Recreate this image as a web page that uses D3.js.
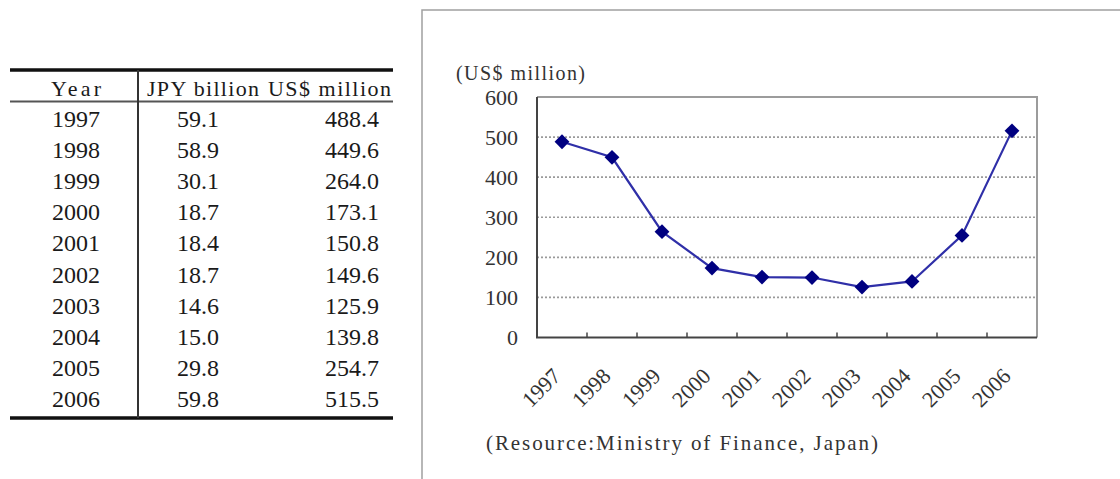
<!DOCTYPE html>
<html>
<head>
<meta charset="utf-8">
<script src="https://cdn.jsdelivr.net/npm/d3@7/dist/d3.min.js"></script>
<style>
  html, body { margin: 0; padding: 0; background: #fff; }
  svg { display: block; }
  text { font-family: "Liberation Serif", "DejaVu Serif", serif; }
</style>
</head>
<body>
<svg id="chart" width="1120" height="479"></svg>
<script>
// Japanese exports, 1997-2006
const years = ["1997", "1998", "1999", "2000", "2001", "2002", "2003", "2004", "2005", "2006"];
const jpyBillion = [59.1, 58.9, 30.1, 18.7, 18.4, 18.7, 14.6, 15.0, 29.8, 59.8];
const usdMillion = [488.4, 449.6, 264.0, 173.1, 150.8, 149.6, 125.9, 139.8, 254.7, 515.5];
const yTicks = [0, 100, 200, 300, 400, 500, 600];
const gridValues = [100, 200, 300, 400, 500];
const tableHeaders = ["Year", "JPY billion", "US$ million"];
const yTitle = "(US$ million)";
const sourceNote = "(Resource:Ministry of Finance, Japan)";

const svg = d3.select("#chart");
const fmt = d3.format(".1f");

// ---------- Table ----------
const table = svg.append("g").attr("fill", "#1a1a1a");
const tLeft = 10, tRight = 393, tTop = 70, tBottom = 418, tDivider = 138;
const rowY = d3.scalePoint().domain(years).range([127, 407]);

table.append("line").attr("x1", tLeft).attr("x2", tRight).attr("y1", tTop).attr("y2", tTop)
  .attr("stroke", "#111").attr("stroke-width", 3.5);
table.append("line").attr("x1", tLeft).attr("x2", tRight).attr("y1", 101.5).attr("y2", 101.5)
  .attr("stroke", "#555").attr("stroke-width", 2);
table.append("line").attr("x1", tLeft).attr("x2", tRight).attr("y1", tBottom).attr("y2", tBottom)
  .attr("stroke", "#111").attr("stroke-width", 3.5);
table.append("line").attr("x1", tDivider).attr("x2", tDivider).attr("y1", tTop).attr("y2", tBottom)
  .attr("stroke", "#333").attr("stroke-width", 2);

table.append("text").attr("x", 76).attr("y", 96).attr("text-anchor", "middle")
  .attr("font-size", 22).attr("textLength", 50).attr("lengthAdjust", "spacing")
  .text(tableHeaders[0]);
table.append("text").attr("x", 147).attr("y", 96)
  .attr("font-size", 22).attr("textLength", 112).attr("lengthAdjust", "spacing")
  .text(tableHeaders[1]);
table.append("text").attr("x", 268).attr("y", 96)
  .attr("font-size", 22).attr("textLength", 123).attr("lengthAdjust", "spacing")
  .text(tableHeaders[2]);

const rows = table.selectAll("g.row").data(years.map((y, i) => ({ year: y, jpy: jpyBillion[i], usd: usdMillion[i] })))
  .join("g").attr("class", "row")
  .attr("transform", d => `translate(0,${rowY(d.year)})`)
  .attr("font-size", 24);
rows.append("text").attr("x", 76).attr("text-anchor", "middle").text(d => d.year);
rows.append("text").attr("x", 198).attr("text-anchor", "middle").text(d => fmt(d.jpy));
rows.append("text").attr("x", 379).attr("text-anchor", "end").text(d => fmt(d.usd));

// ---------- Chart panel ----------
svg.append("rect").attr("x", 422).attr("y", 10).attr("width", 720).attr("height", 500)
  .attr("fill", "#fff").attr("stroke", "#a0a0a0").attr("stroke-width", 1.5);

const plot = { left: 537, right: 1037, top: 97, bottom: 337.5 };
const x = d3.scaleBand().domain(years).range([plot.left, plot.right]).padding(0);
const y = d3.scaleLinear().domain([0, 600]).range([plot.bottom, plot.top]);

// dotted gridlines
svg.append("g").selectAll("line").data(gridValues).join("line")
  .attr("x1", plot.left).attr("x2", plot.right)
  .attr("y1", d => y(d)).attr("y2", d => y(d))
  .attr("stroke", "#9a9a9a").attr("stroke-width", 1.6).attr("stroke-dasharray", "2,2");

// plot frame: light top/right, dark left/bottom axes
svg.append("path")
  .attr("d", `M${plot.left},${plot.top}H${plot.right}V${plot.bottom}`)
  .attr("fill", "none").attr("stroke", "#9c9c9c").attr("stroke-width", 2);
svg.append("path")
  .attr("d", `M${plot.left},${plot.top}V${plot.bottom}H${plot.right}`)
  .attr("fill", "none").attr("stroke", "#444").attr("stroke-width", 2);

// category tick marks at band boundaries
svg.append("g").selectAll("line").data(years.slice(1)).join("line")
  .attr("x1", d => x(d)).attr("x2", d => x(d))
  .attr("y1", plot.bottom).attr("y2", plot.bottom - 5)
  .attr("stroke", "#444").attr("stroke-width", 1.5);

// y axis labels
const yAxis = svg.append("g").attr("transform", `translate(${plot.left},0)`)
  .call(d3.axisLeft(y).tickValues(yTicks).tickSize(0).tickPadding(19));
yAxis.select(".domain").remove();
yAxis.selectAll("text").attr("font-size", 22).attr("fill", "#333")
  .attr("font-family", "Liberation Serif, DejaVu Serif, serif");

// x axis labels, rotated
const xAxis = svg.append("g").attr("transform", `translate(0,${plot.bottom})`)
  .call(d3.axisBottom(x).tickSize(0).tickFormat(d => d));
xAxis.select(".domain").remove();
xAxis.selectAll("text")
  .attr("font-size", 22).attr("fill", "#333")
  .attr("font-family", "Liberation Serif, DejaVu Serif, serif")
  .attr("text-anchor", "end")
  .attr("dy", null)
  .attr("y", 0)
  .attr("transform", "translate(0,40) rotate(-45)");

// axis title
svg.append("text").attr("x", 456).attr("y", 80).attr("font-size", 20).attr("fill", "#333")
  .attr("textLength", 129).attr("lengthAdjust", "spacing").text(yTitle);

// series line and markers
const pts = years.map((yr, i) => [x(yr) + x.bandwidth() / 2, y(usdMillion[i])]);
svg.append("path").datum(pts)
  .attr("d", d3.line())
  .attr("fill", "none").attr("stroke", "#2f2fa8").attr("stroke-width", 2.2);
svg.append("g").selectAll("path").data(pts).join("path")
  .attr("transform", d => `translate(${d[0]},${d[1]})`)
  .attr("d", d3.symbol(d3.symbolDiamond2, 140))
  .attr("fill", "#000080");

// source note
svg.append("text").attr("x", 486).attr("y", 450).attr("font-size", 21).attr("fill", "#333")
  .attr("textLength", 392).attr("lengthAdjust", "spacing").text(sourceNote);
</script>
</body>
</html>
